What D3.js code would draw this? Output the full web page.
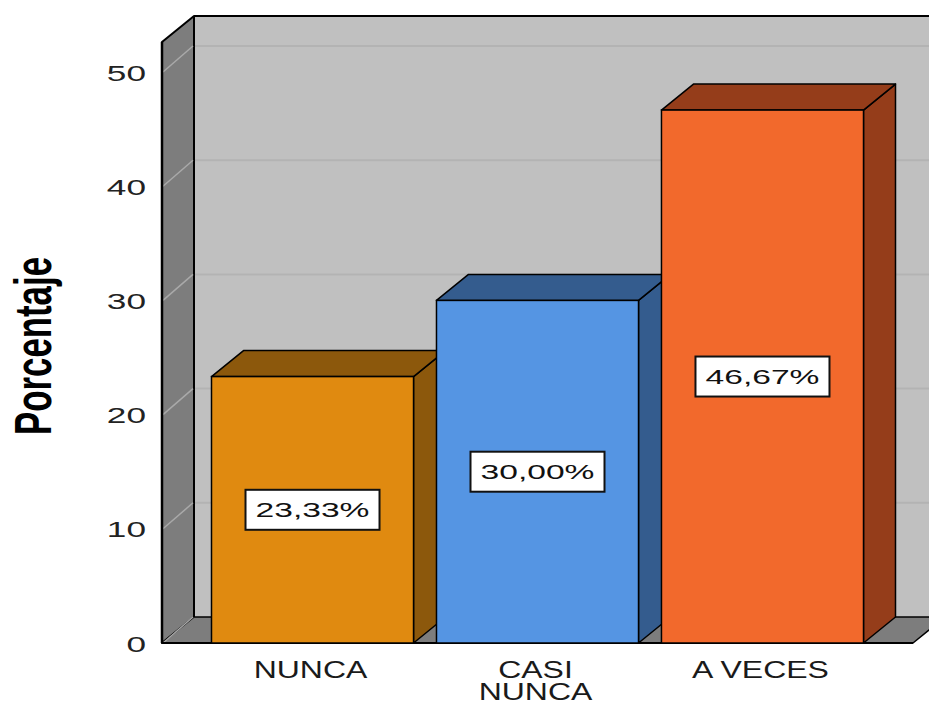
<!DOCTYPE html>
<html><head><meta charset="utf-8">
<script src="https://cdn.jsdelivr.net/npm/d3@7"></script>
<style>html,body{margin:0;padding:0;background:#fff;}svg{display:block;}</style>
</head><body><div id="chart"></div>
<script>
const categories = [["NUNCA"], ["CASI", "NUNCA"], ["A VECES"]];
const categoryKeys = ["NUNCA", "CASI NUNCA", "A VECES"];
const values = [23.33, 30.00, 46.67];
const valueLabels = ["23,33%", "30,00%", "46,67%"];
const yTicks = [0, 10, 20, 30, 40, 50];
const yTitle = "Porcentaje";
const frontColors = ["#e08a10", "#5595e3", "#f2692c"];
const sideColors = ["#8c580c", "#345c8e", "#953d1a"];

const W = 929, H = 704;
const DX = 32, DY = 26;
const svg = d3.select("#chart").append("svg").attr("width", W).attr("height", H);

const y = d3.scaleLinear().domain([0, 52.63]).range([643, 42]);
const x = d3.scaleBand().domain(categoryKeys).range([162, 913]).paddingInner(0.102).paddingOuter(0.22);

const x0 = x.range()[0], x1 = x.range()[1];
const yTop = y(y.domain()[1]), yBot = y(0);

// back wall
svg.append("rect").attr("x", x0 + DX).attr("y", yTop - DY).attr("width", (x1 - x0) + 10).attr("height", yBot - yTop)
  .attr("fill", "#c0c0c0");
svg.selectAll(".bg").data(yTicks.filter(d => d > 0)).join("line")
  .attr("x1", x0 + DX).attr("x2", x1 + DX + 10)
  .attr("y1", d => y(d) - DY).attr("y2", d => y(d) - DY)
  .attr("stroke", "#b3b3b3").attr("stroke-width", 2);
svg.append("line").attr("x1", x0 + DX).attr("x2", x1 + DX + 10).attr("y1", yTop - DY).attr("y2", yTop - DY)
  .attr("stroke", "#000").attr("stroke-width", 2);

// left wall
svg.append("path")
  .attr("d", `M${x0},${yTop}L${x0 + DX},${yTop - DY}L${x0 + DX},${yBot - DY}L${x0},${yBot}Z`)
  .attr("fill", "#7d7d7d").attr("stroke", "#000").attr("stroke-width", 2).attr("stroke-linejoin", "round");
svg.selectAll(".lg").data(yTicks.filter(d => d > 0)).join("line")
  .attr("x1", x0 + 1).attr("x2", x0 + DX - 1)
  .attr("y1", d => y(d)).attr("y2", d => y(d) - DY)
  .attr("stroke", "#a9a9a9").attr("stroke-width", 1.5);
svg.append("line").attr("x1", x0).attr("x2", x0).attr("y1", yTop).attr("y2", yBot)
  .attr("stroke", "#000").attr("stroke-width", 2.5);

// floor
svg.append("path")
  .attr("d", `M${x0},${yBot}L${x0 + DX},${yBot - DY}L${x1 + DX},${yBot - DY}L${x1},${yBot}Z`)
  .attr("fill", "#7d7d7d").attr("stroke", "#000").attr("stroke-width", 1.5).attr("stroke-linejoin", "round");
svg.append("line").attr("x1", x0 + 1).attr("x2", x0 + DX - 1).attr("y1", yBot).attr("y2", yBot - DY)
  .attr("stroke", "#a9a9a9").attr("stroke-width", 1.5);
svg.append("line").attr("x1", x0).attr("x2", x1).attr("y1", yBot).attr("y2", yBot)
  .attr("stroke", "#000").attr("stroke-width", 2);

// bars
values.forEach((v, i) => {
  const bx = x(categoryKeys[i]), bw = x.bandwidth(), by = y(v), bb = y(0);
  const g = svg.append("g");
  g.append("path").attr("d", `M${bx + bw},${by}L${bx + bw + DX},${by - DY}L${bx + bw + DX},${bb - DY}L${bx + bw},${bb}Z`)
    .attr("fill", sideColors[i]).attr("stroke", "#000").attr("stroke-width", 1.5).attr("stroke-linejoin", "round");
  g.append("path").attr("d", `M${bx},${by}L${bx + DX},${by - DY}L${bx + bw + DX},${by - DY}L${bx + bw},${by}Z`)
    .attr("fill", sideColors[i]).attr("stroke", "#000").attr("stroke-width", 1.5).attr("stroke-linejoin", "round");
  g.append("rect").attr("x", bx).attr("y", by).attr("width", bw).attr("height", bb - by)
    .attr("fill", frontColors[i]).attr("stroke", "#000").attr("stroke-width", 1.5);
});

// value labels
values.forEach((v, i) => {
  const cx = x(categoryKeys[i]) + x.bandwidth() / 2, cy = y(v / 2);
  const g = svg.append("g").attr("transform", `translate(${cx},${cy})`);
  g.append("rect").attr("x", -67).attr("y", -20).attr("width", 134).attr("height", 40)
    .attr("fill", "#fff").attr("stroke", "#111").attr("stroke-width", 2);
  g.append("text").attr("transform", "scale(1.6,1)").attr("text-anchor", "middle").attr("y", 7.5)
    .attr("font-family", "Liberation Sans, Arial, sans-serif").attr("font-size", 21).attr("fill", "#111")
    .text(valueLabels[i]);
});

// y axis labels
const yAxis = d3.axisLeft(y).tickValues(yTicks).tickSize(0).tickFormat(d3.format("d"));
const ax = svg.append("g").attr("transform", `translate(146,0)`).call(yAxis);
ax.select(".domain").remove();
ax.selectAll("text").attr("x", 0).attr("dy", null).attr("y", 8)
  .attr("transform", "scale(1.6,1)")
  .attr("font-family", "Liberation Sans, Arial, sans-serif").attr("font-size", 22).attr("fill", "#222")
  .attr("text-anchor", "end");

// x labels
categories.forEach((lines, i) => {
  const cx = x(categoryKeys[i]) + x.bandwidth() / 2 - 2;
  lines.forEach((t, j) => {
    svg.append("text").attr("transform", `translate(${cx},${678 + j * 22}) scale(1.36,1)`)
      .attr("text-anchor", "middle")
      .attr("font-family", "Liberation Sans, Arial, sans-serif").attr("font-size", 23.5).attr("fill", "#1a1a1a")
      .text(t);
  });
});

// y title
svg.append("text").attr("transform", "translate(51,346) rotate(-90) scale(1,1.34)")
  .attr("text-anchor", "middle").attr("font-family", "Liberation Sans, Arial, sans-serif")
  .attr("font-weight", "bold").attr("font-size", 38).attr("fill", "#000")
  .attr("textLength", 178).attr("lengthAdjust", "spacingAndGlyphs")
  .text(yTitle);
</script></body></html>
